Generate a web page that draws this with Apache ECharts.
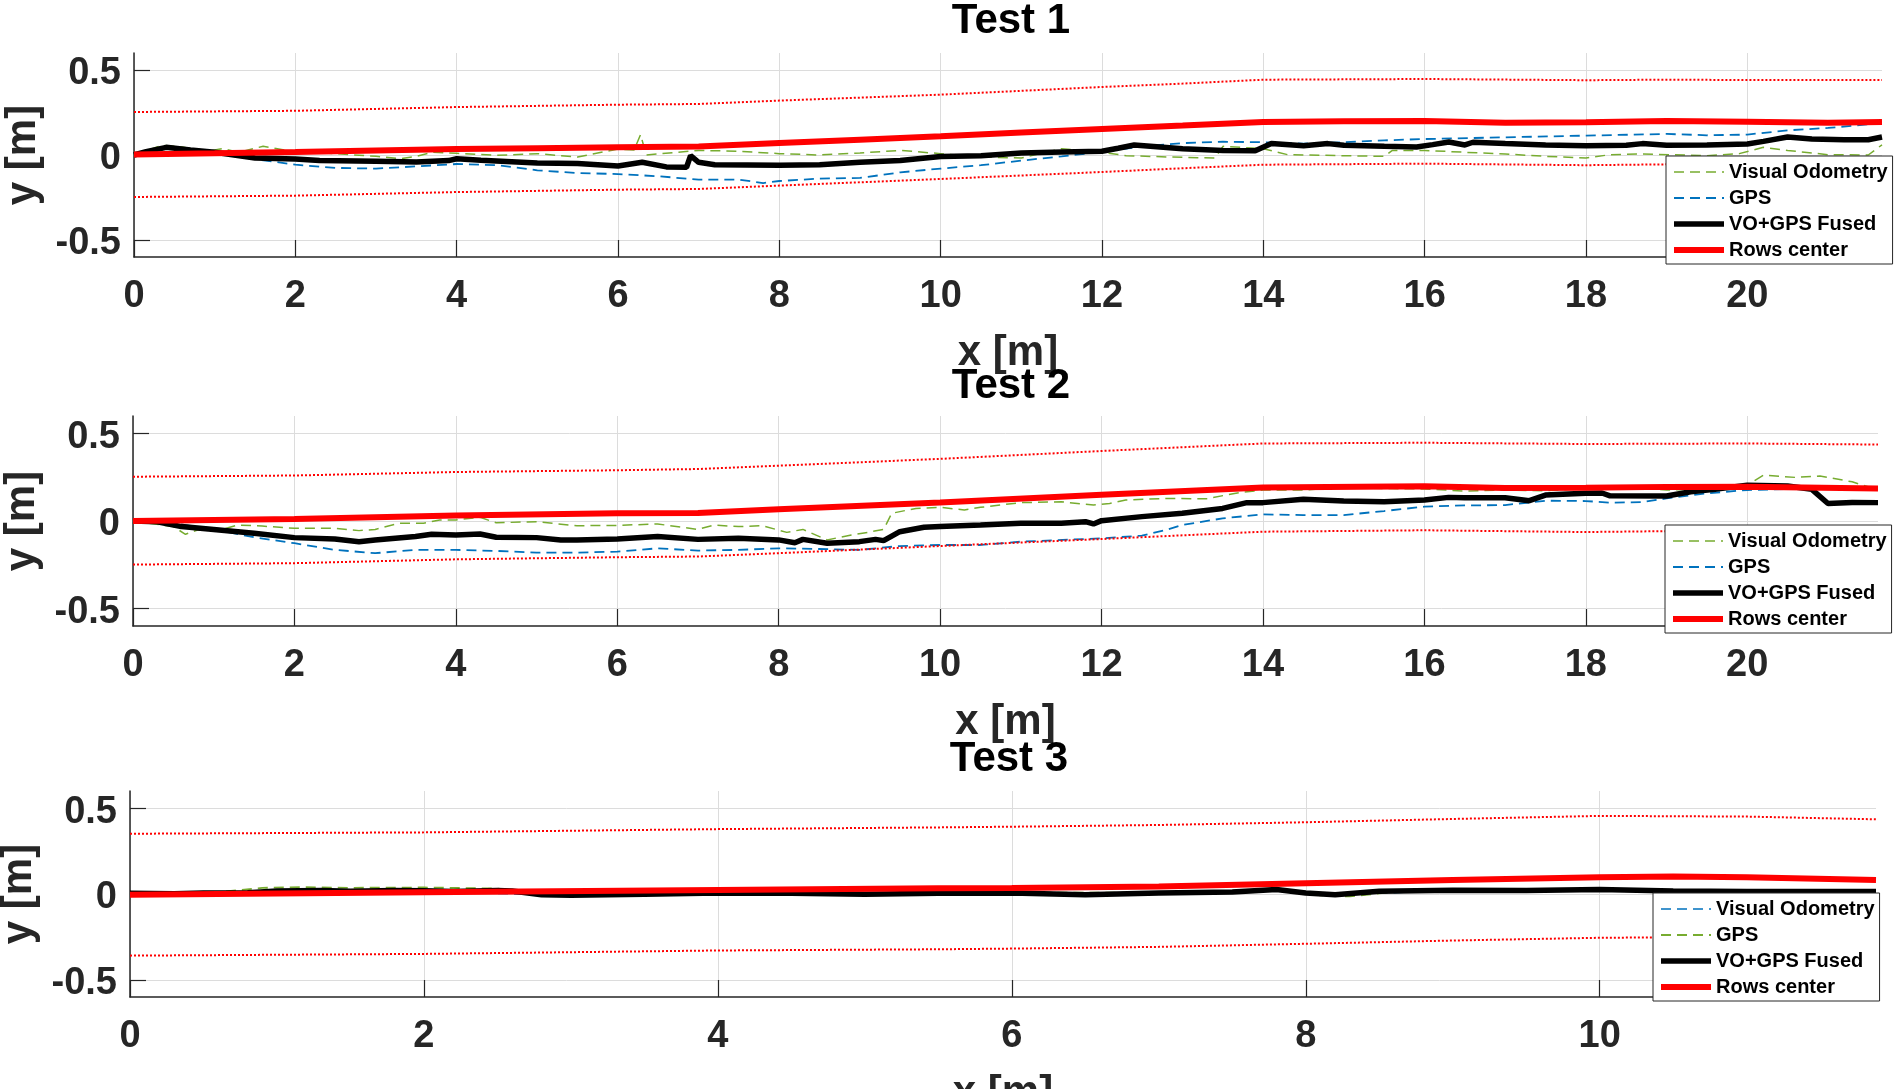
<!DOCTYPE html>
<html>
<head>
<meta charset="utf-8">
<title>Test 1-3 trajectories</title>
<script src="https://cdn.jsdelivr.net/npm/echarts@6/dist/echarts.min.js"></script>
<style>
  html, body { margin: 0; padding: 0; background: #fff; }
  #main { width: 1902px; height: 1089px; }
</style>
</head>
<body>
<div id="main"></div>
<script>
(function () {
  // ---- data: [x, y] in metres ----
  var xTicksLong = [0, 2, 4, 6, 8, 10, 12, 14, 16, 18, 20];
  var xTicksShort = [0, 2, 4, 6, 8, 10];
  var yTicks = [-0.5, 0, 0.5];
  var legendNames = ['Visual Odometry', 'GPS', 'VO+GPS Fused', 'Rows center'];

  // Test 1
  var t1Vo = [[0,0],[0.35,0.057],[0.6,0.047],[0.9,0.022],[1.1,0.037],[1.3,0.016],[1.6,0.051],[1.9,0.027],[2.5,0.008],[3,-0.008],[3.3,-0.022],[3.5,-0.008],[3.7,0.016],[4,0.01],[4.5,-0.002],[5,0.008],[5.5,-0.012],[6,0.035],[6.2,0.03],[6.28,0.12],[6.35,0],[7,0.027],[7.5,0.022],[8,0.008],[8.5,0],[9,0.012],[9.5,0.027],[10,0.008],[10.5,-0.012],[11,-0.018],[11.5,0.037],[12,0.016],[12.3,-0.004],[13,-0.014],[13.4,-0.018],[13.5,0.051],[14,0.037],[14.3,0.002],[15,-0.004],[15.5,-0.008],[15.6,0.027],[16,0.027],[16.5,0.016],[17,0.006],[17.5,-0.008],[18,-0.018],[18.3,0.002],[18.7,0.006],[19.5,-0.004],[19.9,0.008],[20.2,0.045],[20.5,0.027],[21,0.002],[21.5,0],[21.67,0.06]];
  var t1Gps = [[0,0],[1,0.008],[1.5,-0.024],[2,-0.057],[2.5,-0.076],[3,-0.08],[3.5,-0.067],[4,-0.053],[4.5,-0.06],[5,-0.09],[5.5,-0.106],[6,-0.112],[6.5,-0.125],[7,-0.145],[7.5,-0.145],[7.8,-0.165],[8,-0.153],[8.5,-0.139],[9,-0.135],[9.5,-0.102],[10,-0.08],[10.5,-0.06],[11,-0.033],[11.5,-0.008],[12,0.018],[12.5,0.051],[13,0.07],[13.5,0.078],[14,0.075],[14.5,0.067],[15,0.075],[15.5,0.086],[16,0.094],[17,0.104],[18,0.114],[19,0.124],[19.5,0.116],[20,0.12],[20.5,0.145],[21,0.159],[21.67,0.188]];
  var t1Fused = [[0,0],[0.15,0.02],[0.4,0.045],[0.7,0.03],[1,0.016],[1.5,-0.018],[2,-0.024],[2.3,-0.033],[3,-0.037],[3.5,-0.041],[3.9,-0.033],[4,-0.022],[4.3,-0.031],[5,-0.047],[5.5,-0.05],[6,-0.065],[6.3,-0.043],[6.6,-0.07],[6.85,-0.072],[6.9,-0.004],[7,-0.043],[7.2,-0.057],[8,-0.06],[8.5,-0.057],[9,-0.043],[9.5,-0.033],[10,-0.009],[10.5,-0.004],[11,0.012],[11.5,0.018],[12,0.022],[12.2,0.04],[12.4,0.059],[13,0.037],[13.5,0.027],[13.9,0.025],[14.1,0.067],[14.5,0.055],[14.8,0.067],[15,0.057],[15.5,0.051],[15.9,0.047],[16.1,0.061],[16.3,0.076],[16.5,0.059],[16.6,0.075],[17,0.067],[17.5,0.059],[18,0.055],[18.5,0.057],[18.7,0.067],[19,0.057],[19.5,0.059],[20,0.065],[20.2,0.08],[20.5,0.106],[20.8,0.094],[21.2,0.09],[21.5,0.09],[21.67,0.106]];
  var t1Center = [[0,0.003],[1,0.01],[2,0.018],[3,0.027],[4,0.035],[5,0.04],[6,0.045],[7,0.05],[8,0.07],[9,0.09],[10,0.11],[11,0.132],[12,0.153],[13,0.173],[14,0.194],[15,0.198],[16,0.2],[17,0.19],[18,0.192],[19,0.2],[20,0.196],[21,0.19],[21.67,0.194]];
  var t1Upper = [[0,0.253],[2,0.26],[4,0.282],[6,0.296],[7,0.3],[8,0.32],[10,0.355],[12,0.4],[13,0.42],[14,0.443],[16,0.447],[18,0.44],[19,0.443],[20,0.441],[21.67,0.441]];
  var t1Lower = [[0,-0.247],[2,-0.239],[4,-0.218],[6,-0.204],[7,-0.2],[8,-0.18],[10,-0.141],[12,-0.1],[13,-0.078],[14,-0.057],[16,-0.051],[18,-0.06],[19,-0.055],[20,-0.058],[21.67,-0.058]];

  // Test 2
  var t2Vo = [[0,0],[0.5,-0.032],[0.65,-0.076],[0.8,-0.051],[1.1,-0.048],[1.3,-0.023],[1.6,-0.029],[2,-0.042],[2.5,-0.042],[2.8,-0.055],[3,-0.048],[3.3,-0.013],[3.6,-0.013],[3.8,0.006],[4,0.006],[4.3,0.021],[4.5,-0.01],[5,-0.004],[5.5,-0.027],[6,-0.025],[6.5,-0.017],[7,-0.048],[7.2,-0.023],[7.5,-0.032],[7.8,-0.027],[8.1,-0.065],[8.3,-0.048],[8.6,-0.108],[8.9,-0.08],[9.1,-0.065],[9.3,-0.048],[9.4,0.044],[9.7,0.072],[10,0.078],[10.3,0.063],[10.5,0.078],[11,0.105],[11.5,0.11],[11.9,0.091],[12.1,0.1],[12.3,0.12],[12.8,0.129],[13.3,0.127],[13.7,0.162],[14,0.177],[14.5,0.177],[15,0.192],[15.5,0.186],[16,0.183],[16.5,0.171],[17,0.177],[17.5,0.173],[18,0.186],[18.5,0.2],[19,0.177],[19.5,0.184],[20,0.205],[20.2,0.262],[20.6,0.249],[20.9,0.257],[21.3,0.224],[21.62,0.177]];
  var t2Gps = [[0,0],[0.5,-0.013],[1,-0.048],[1.5,-0.093],[2,-0.127],[2.5,-0.165],[3,-0.184],[3.5,-0.165],[4,-0.165],[4.5,-0.171],[5,-0.181],[5.5,-0.181],[6,-0.175],[6.5,-0.156],[7,-0.169],[7.5,-0.165],[8,-0.156],[8.5,-0.16],[9,-0.165],[9.5,-0.143],[10,-0.137],[10.5,-0.137],[11,-0.118],[12,-0.099],[12.5,-0.084],[12.8,-0.051],[13,-0.023],[13.5,0.015],[14,0.038],[14.5,0.034],[15,0.034],[15.5,0.057],[16,0.082],[16.5,0.089],[17,0.091],[17.5,0.116],[18,0.114],[18.3,0.105],[18.7,0.108],[19,0.129],[19.5,0.158],[20,0.177],[20.5,0.183],[21,0.192],[21.62,0.192]];
  var t2Fused = [[0,0],[0.3,-0.004],[0.6,-0.032],[1,-0.048],[1.5,-0.07],[2,-0.095],[2.5,-0.103],[2.8,-0.118],[3,-0.108],[3.5,-0.089],[3.7,-0.076],[4,-0.08],[4.3,-0.074],[4.5,-0.093],[5,-0.095],[5.3,-0.108],[5.5,-0.108],[6,-0.103],[6.5,-0.089],[7,-0.105],[7.5,-0.099],[8,-0.108],[8.2,-0.124],[8.3,-0.105],[8.6,-0.127],[9,-0.118],[9.2,-0.105],[9.3,-0.112],[9.5,-0.061],[9.8,-0.036],[10,-0.032],[10.5,-0.023],[11,-0.013],[11.5,-0.013],[11.8,-0.004],[11.9,-0.017],[12,0.002],[12.5,0.025],[13,0.044],[13.5,0.072],[13.8,0.105],[14,0.105],[14.5,0.124],[15,0.114],[15.5,0.11],[16,0.12],[16.3,0.135],[16.5,0.133],[17,0.133],[17.3,0.116],[17.5,0.148],[18,0.158],[18.2,0.16],[18.3,0.144],[19,0.143],[19.3,0.167],[19.6,0.181],[20,0.205],[20.5,0.2],[20.8,0.181],[21,0.1],[21.3,0.106],[21.62,0.105]];
  var t2Center = [[0,0],[2,0.011],[4,0.032],[6,0.044],[7,0.046],[8,0.067],[10,0.106],[12,0.15],[14,0.192],[16,0.198],[17,0.188],[18,0.19],[19,0.195],[20,0.196],[21.62,0.186]];
  var t2Upper = [[0,0.253],[2,0.26],[4,0.28],[6,0.29],[7,0.297],[8,0.316],[10,0.355],[12,0.4],[14,0.443],[16,0.447],[18,0.44],[20,0.443],[21.62,0.437]];
  var t2Lower = [[0,-0.249],[2,-0.241],[4,-0.219],[6,-0.207],[7,-0.203],[8,-0.184],[10,-0.143],[12,-0.103],[14,-0.061],[16,-0.053],[18,-0.063],[19,-0.058],[20,-0.058],[21.62,-0.063]];

  // Test 3
  var t3Vo = [[0,0.004],[1,0.014],[2,0.016],[2.8,-0.004],[4,0.004],[4.5,0.003],[5,-0.003],[6,0.006],[7,0.006],[7.8,0.024],[8.1,-0.002],[8.4,0.002],[9,0.02],[10,0.026],[11,0.015],[11.88,0.016]];
  var t3Gps = [[0,0.004],[0.6,0.01],[0.9,0.036],[1.2,0.04],[1.5,0.036],[2,0.038],[2.5,0.032],[2.8,0.004],[3.5,0.002],[4,0.008],[5,0.002],[6,0.008],[7,0.008],[7.8,0.026],[8.1,-0.008],[8.3,-0.014],[8.6,0.012],[9,0.022],[10,0.028],[11,0.016],[11.88,0.016]];
  var t3Fused = [[0,0.004],[0.3,0.002],[0.5,0.006],[0.8,0.008],[1,0.018],[1.3,0.02],[1.5,0.016],[1.8,0.02],[2,0.019],[2.2,0.014],[2.5,0.02],[2.6,0.018],[2.8,-0.004],[3,-0.008],[3.5,-0.002],[4,0.006],[4.5,0.004],[5,-0.002],[5.5,0.004],[6,0.006],[6.5,-0.004],[7,0.006],[7.5,0.012],[7.8,0.026],[8,0.006],[8.2,-0.004],[8.5,0.016],[9,0.022],[9.5,0.02],[10,0.026],[10.5,0.018],[11,0.014],[11.88,0.014]];
  var t3Center = [[0,-0.004],[2,0.01],[4,0.024],[5.5,0.033],[6,0.035],[7,0.043],[8,0.063],[9,0.082],[10,0.098],[10.5,0.102],[11,0.098],[11.88,0.082]];
  var t3Upper = [[0,0.351],[2,0.359],[4,0.378],[5.5,0.388],[6,0.392],[7,0.402],[8,0.418],[9,0.437],[10,0.455],[11,0.451],[11.88,0.435]];
  var t3Lower = [[0,-0.359],[2,-0.349],[4,-0.329],[5.5,-0.322],[6,-0.318],[7,-0.308],[8,-0.29],[9,-0.271],[10,-0.255],[11,-0.25],[11.88,-0.252]];

  // ---- styling ----
  var FONT = '"Liberation Sans", Arial, Helvetica, sans-serif';
  var AXIS = '#262626';
  var GRID = '#dcdcdc';
  var GREEN = '#77AC30', BLUE = '#0072BD', RED = '#ff0000';
  var DASH = [10, 6];

  var grids = [
    { left: 134, top: 53, width: 1748, height: 204, outerBoundsMode: 'none' },
    { left: 133, top: 416, width: 1745, height: 210, outerBoundsMode: 'none' },
    { left: 130, top: 791, width: 1746, height: 206, outerBoundsMode: 'none' }
  ];
  var xMax = [21.67, 21.62, 11.88];
  var xTicks = [xTicksLong, xTicksLong, xTicksShort];
  var titles = ['Test 1', 'Test 2', 'Test 3'];
  var titlePos = [[1011, 0], [1011, 365], [1009, 738]];
  var legendPos = [[1666, 156], [1665, 525], [1653, 893]];

  var tests = [
    { vo: t1Vo, gps: t1Gps, fused: t1Fused, center: t1Center, upper: t1Upper, lower: t1Lower, voColor: GREEN, gpsColor: BLUE },
    { vo: t2Vo, gps: t2Gps, fused: t2Fused, center: t2Center, upper: t2Upper, lower: t2Lower, voColor: GREEN, gpsColor: BLUE },
    { vo: t3Vo, gps: t3Gps, fused: t3Fused, center: t3Center, upper: t3Upper, lower: t3Lower, voColor: BLUE, gpsColor: GREEN }
  ];

  function line(i, name, data, style) {
    return {
      type: 'line', name: name, data: data,
      xAxisIndex: i, yAxisIndex: i,
      symbol: 'none', showSymbol: false, smooth: false,
      lineStyle: { color: style.color, width: style.width, type: style.type },
      itemStyle: { color: style.color },
      emphasis: { disabled: true },
      silent: true
    };
  }

  var option = {
    animation: false,
    backgroundColor: '#fff',
    textStyle: { fontFamily: FONT },
    title: [], grid: [], xAxis: [], yAxis: [], legend: [], series: []
  };

  tests.forEach(function (t, i) {
    option.grid.push(grids[i]);
    option.title.push({
      text: titles[i], left: titlePos[i][0], top: titlePos[i][1],
      textAlign: 'center', padding: 0,
      textStyle: { fontSize: 42, fontWeight: 'bold', color: '#000', fontFamily: FONT }
    });
    option.xAxis.push({
      gridIndex: i, type: 'value', min: 0, max: xMax[i],
      name: 'x [m]', nameLocation: 'middle', nameGap: 75,
      nameTextStyle: { fontSize: 42, fontWeight: 'bold', color: AXIS, fontFamily: FONT },
      axisLine: { show: true, onZero: false, lineStyle: { color: AXIS, width: 1.5 } },
      axisTick: { show: true, inside: true, length: 17, customValues: xTicks[i], lineStyle: { color: AXIS, width: 1.2 } },
      axisLabel: { customValues: xTicks[i], margin: 21, fontSize: 38, fontWeight: 'bold', color: AXIS, fontFamily: FONT },
      splitLine: { show: true, lineStyle: { color: GRID, width: 1 } }
    });
    option.yAxis.push({
      gridIndex: i, type: 'value', min: -0.6, max: 0.6,
      name: 'y [m]', nameLocation: 'middle', nameGap: 84,
      nameTextStyle: { fontSize: 42, fontWeight: 'bold', color: AXIS, fontFamily: FONT },
      axisLine: { show: true, onZero: false, lineStyle: { color: AXIS, width: 1.5 } },
      axisTick: { show: true, inside: true, length: 16, customValues: yTicks, lineStyle: { color: AXIS, width: 1.2 } },
      axisLabel: { customValues: yTicks, margin: 13, verticalAlign: 'top', lineHeight: 8, fontSize: 38, fontWeight: 'bold', color: AXIS, fontFamily: FONT },
      splitLine: { show: true, lineStyle: { color: GRID, width: 1 } }
    });

    var styles = [
      { color: t.voColor, width: 1.5, type: DASH },
      { color: t.gpsColor, width: 1.8, type: DASH },
      { color: '#000', width: 5.5, type: 'solid' },
      { color: RED, width: 6, type: 'solid' }
    ];
    var edge = { color: RED, width: 2, type: 'dotted' };

    option.legend.push({
      orient: 'vertical', left: legendPos[i][0], top: legendPos[i][1],
      itemWidth: 50, itemHeight: 20, itemGap: 6,
      padding: [6, 5, 4, 5],
      backgroundColor: '#fff', borderColor: AXIS, borderWidth: 1, borderRadius: 0,
      selectedMode: false,
      textStyle: { fontSize: 20, fontWeight: 'bold', color: '#000', fontFamily: FONT },
      data: legendNames.map(function (n, k) {
        return { name: n, lineStyle: styles[k], itemStyle: { opacity: 0 } };
      })
    });

    option.series.push(
      line(i, legendNames[0], t.vo, styles[0]),
      line(i, legendNames[1], t.gps, styles[1]),
      line(i, legendNames[2], t.fused, styles[2]),
      line(i, legendNames[3], t.center, styles[3]),
      line(i, 'Row edge', t.upper, edge),
      line(i, 'Row edge', t.lower, edge)
    );
  });

  var chart = echarts.init(document.getElementById('main'));
  chart.setOption(option);
})();
</script>
</body>
</html>
